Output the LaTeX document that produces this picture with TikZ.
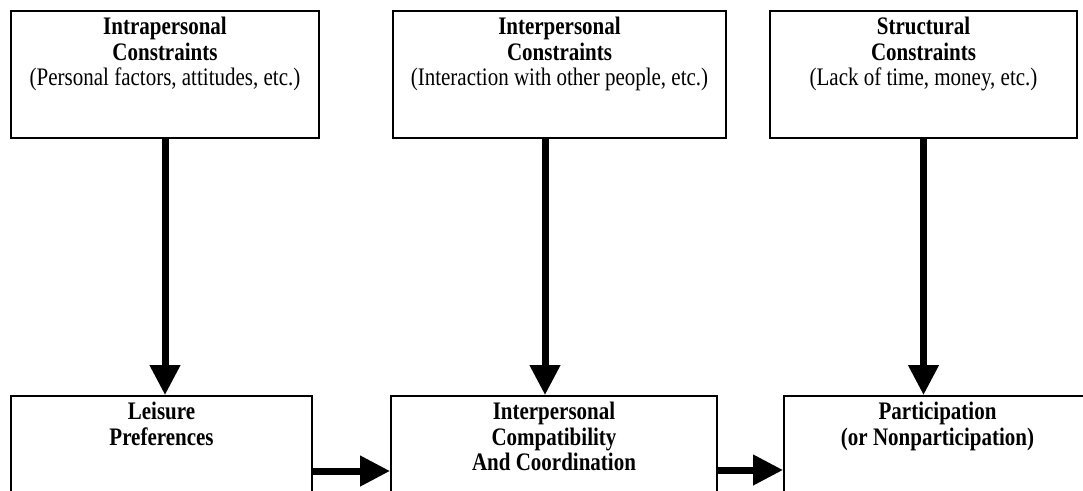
\documentclass[tikz,border=0pt]{standalone}
\usepackage{fontspec}
\setmainfont{Liberation Serif}
\usetikzlibrary{positioning,arrows.meta}
\tikzset{
box/.style={draw, rectangle, line width=1.8pt, inner sep=0pt},
ttl/.style={align=center, inner sep=0pt, yscale=1.2, transform shape, font=\fontsize{21}{21.3}\selectfont\bfseries},
flow/.style={line width=7pt, -{Triangle[width=29pt,length=30pt]}}
}
\begin{document}
\begin{tikzpicture}[x=1pt,y=-1pt]
\useasboundingbox (0,0) rectangle (1083,490);
\node[box, minimum width=308pt, minimum height=127pt] (intra) at (165,74.5) {};
\node[box, minimum width=333pt, minimum height=127pt] (inter) at (559.5,74.5) {};
\node[box, minimum width=307pt, minimum height=127pt] (struct) at (923.5,74.5) {};
\node[box, minimum width=301pt, minimum height=124pt] (leis) at (161.5,458) {};
\node[box, minimum width=326pt, minimum height=124pt] (compat) at (554,458) {};
\node[box, minimum width=307pt, minimum height=124pt] (part) at (937.5,458) {};

\node[ttl, below=7pt of intra.north] (intraT) {Intrapersonal\\Constraints\\\mdseries(Personal factors, attitudes, etc.)};
\node[ttl, below=7pt of inter.north] (interT) {Interpersonal\\Constraints\\\mdseries(Interaction with other people, etc.)};
\node[ttl, below=7pt of struct.north] (structT) {Structural\\Constraints\\\mdseries(Lack of time, money, etc.)};
\node[ttl, below=7pt of leis.north] (leisT) {Leisure\\Preferences};
\node[ttl, below=7pt of compat.north] (compatT) {Interpersonal\\Compatibility\\And Coordination};
\node[ttl, below=7pt of part.north] (partT) {Participation\\(or Nonparticipation)};

\draw[flow] (intra) -- (intra |- leis.north);
\draw[flow] ([xshift=-14.5pt]inter.south) -- ([xshift=-14.5pt]inter.south |- compat.north);
\draw[flow] (struct) -- (struct |- part.north);
\draw[flow] ([yshift=-13pt]leis.east) -- ([yshift=-13pt]leis.east -| compat.west);
\draw[flow] ([yshift=-12pt]compat.east) -- ([yshift=-12pt]compat.east -| part.west);
\end{tikzpicture}
\end{document}
